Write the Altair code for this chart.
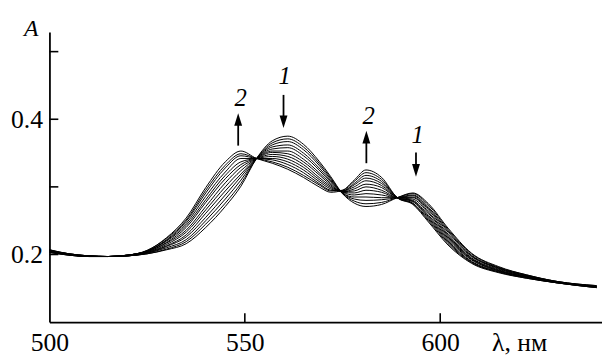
import altair as alt
import pandas as pd

# wavelengths (nm) at which the spectra were read
wavelength = [500, 505, 510, 515, 520, 525, 530, 535, 540, 545, 549, 553, 557, 561, 565,
              569, 572, 575, 578, 581, 585, 589, 593, 597, 602, 608, 615, 622, 630, 640]

# absorbance spectra, from curve 1 (initial) to curve 2 (final)
curve_01 = [0.203, 0.199, 0.197, 0.197, 0.198, 0.201, 0.207, 0.216, 0.240, 0.271, 0.301, 0.342, 0.368, 0.375, 0.363,
            0.338, 0.315, 0.290, 0.276, 0.271, 0.274, 0.284, 0.291, 0.275, 0.239, 0.202, 0.182, 0.170, 0.160, 0.154]
curve_02 = [0.203, 0.199, 0.197, 0.197, 0.198, 0.201, 0.208, 0.219, 0.245, 0.276, 0.305, 0.342, 0.365, 0.371, 0.359,
            0.335, 0.313, 0.290, 0.279, 0.275, 0.277, 0.284, 0.290, 0.273, 0.237, 0.201, 0.181, 0.170, 0.160, 0.154]
curve_03 = [0.204, 0.199, 0.197, 0.197, 0.198, 0.202, 0.210, 0.222, 0.250, 0.282, 0.310, 0.342, 0.362, 0.367, 0.355,
            0.332, 0.311, 0.291, 0.282, 0.280, 0.281, 0.284, 0.288, 0.270, 0.235, 0.199, 0.180, 0.169, 0.160, 0.153]
curve_04 = [0.204, 0.200, 0.197, 0.197, 0.198, 0.202, 0.212, 0.226, 0.255, 0.288, 0.315, 0.342, 0.359, 0.362, 0.350,
            0.328, 0.309, 0.291, 0.285, 0.285, 0.284, 0.284, 0.287, 0.268, 0.233, 0.198, 0.180, 0.169, 0.159, 0.153]
curve_05 = [0.204, 0.200, 0.197, 0.197, 0.198, 0.203, 0.213, 0.229, 0.261, 0.294, 0.319, 0.342, 0.356, 0.358, 0.346,
            0.325, 0.307, 0.292, 0.288, 0.290, 0.288, 0.284, 0.285, 0.266, 0.230, 0.197, 0.179, 0.168, 0.159, 0.153]
curve_06 = [0.205, 0.200, 0.197, 0.197, 0.198, 0.203, 0.215, 0.233, 0.266, 0.300, 0.324, 0.342, 0.353, 0.353, 0.341,
            0.321, 0.305, 0.292, 0.291, 0.295, 0.292, 0.284, 0.284, 0.263, 0.228, 0.195, 0.178, 0.168, 0.159, 0.153]
curve_07 = [0.205, 0.200, 0.198, 0.197, 0.199, 0.204, 0.217, 0.236, 0.271, 0.306, 0.329, 0.342, 0.351, 0.349, 0.337,
            0.318, 0.303, 0.293, 0.294, 0.300, 0.295, 0.284, 0.282, 0.261, 0.226, 0.194, 0.177, 0.167, 0.159, 0.152]
curve_08 = [0.205, 0.200, 0.198, 0.197, 0.199, 0.204, 0.218, 0.240, 0.277, 0.312, 0.333, 0.342, 0.348, 0.345, 0.333,
            0.314, 0.301, 0.293, 0.297, 0.304, 0.299, 0.284, 0.280, 0.258, 0.224, 0.193, 0.176, 0.167, 0.159, 0.152]
curve_09 = [0.206, 0.200, 0.198, 0.197, 0.199, 0.205, 0.220, 0.243, 0.281, 0.317, 0.337, 0.342, 0.345, 0.341, 0.329,
            0.311, 0.299, 0.294, 0.300, 0.309, 0.302, 0.284, 0.279, 0.256, 0.222, 0.192, 0.176, 0.167, 0.159, 0.152]
curve_10 = [0.206, 0.201, 0.198, 0.197, 0.199, 0.205, 0.221, 0.246, 0.286, 0.322, 0.342, 0.342, 0.342, 0.337, 0.325,
            0.308, 0.297, 0.294, 0.303, 0.313, 0.305, 0.284, 0.278, 0.254, 0.220, 0.190, 0.175, 0.166, 0.158, 0.152]
curve_11 = [0.206, 0.201, 0.198, 0.197, 0.199, 0.205, 0.222, 0.249, 0.291, 0.328, 0.346, 0.342, 0.340, 0.333, 0.321,
            0.305, 0.295, 0.294, 0.305, 0.317, 0.308, 0.284, 0.276, 0.252, 0.218, 0.189, 0.174, 0.166, 0.158, 0.151]
curve_12 = [0.207, 0.201, 0.198, 0.197, 0.199, 0.206, 0.224, 0.251, 0.295, 0.332, 0.349, 0.342, 0.337, 0.329, 0.317,
            0.303, 0.294, 0.295, 0.308, 0.321, 0.311, 0.284, 0.275, 0.250, 0.216, 0.188, 0.174, 0.165, 0.158, 0.151]
curve_13 = [0.207, 0.201, 0.198, 0.197, 0.199, 0.206, 0.225, 0.254, 0.299, 0.337, 0.353, 0.342, 0.335, 0.326, 0.314,
            0.300, 0.292, 0.295, 0.310, 0.325, 0.314, 0.284, 0.274, 0.248, 0.214, 0.187, 0.173, 0.165, 0.158, 0.151]

curves = [curve_01, curve_02, curve_03, curve_04, curve_05, curve_06, curve_07,
          curve_08, curve_09, curve_10, curve_11, curve_12, curve_13]

# axis ticks / labels
x_tick_labels = [500, 550, 600]
x_ticks = [550, 600]
y_tick_labels = [0.2, 0.4]
y_ticks = [0.2, 0.3, 0.4, 0.5]

# annotation arrows ("1" = decreasing bands, "2" = growing bands)
arrow_wavelength = [548.3, 559.9, 581.1, 593.8]
arrow_tail = [0.361, 0.436, 0.335, 0.351]
arrow_shaft_end = [0.400, 0.396, 0.374, 0.324]
arrow_tip = [0.409, 0.387, 0.383, 0.315]
arrow_direction = ["up", "down", "up", "down"]

label_text = ["2", "1", "2", "1"]
label_wavelength = [548.9, 560.2, 581.7, 594.2]
label_A = [0.432, 0.464, 0.404, 0.377]

rows = []
for i, c in enumerate(curves):
    for w, a in zip(wavelength, c):
        rows.append({"wavelength": w, "A": a, "curve": i + 1})
spectra = pd.DataFrame(rows)

arrows = pd.DataFrame({"wavelength": arrow_wavelength, "tail": arrow_tail,
                       "shaft_end": arrow_shaft_end, "tip": arrow_tip, "dir": arrow_direction})
labels = pd.DataFrame({"wavelength": label_wavelength, "A": label_A, "text": label_text})
xt = pd.DataFrame({"x": x_ticks})
yt = pd.DataFrame({"y": y_ticks})

FONT = "Liberation Serif"
x_scale = alt.Scale(domain=[500, 641.4], nice=False, zero=False)
y_scale = alt.Scale(domain=[0.1, 0.529], nice=False, zero=False)

x_axis = alt.Axis(values=x_tick_labels, format="d", ticks=False, tickSize=0, grid=False,
                  labelFlush=False, labelOverlap=False, labelFont=FONT, labelFontSize=26,
                  labelColor="black", labelPadding=29, labelBaseline="alphabetic",
                  domainColor="black", domainWidth=1.8,
                  title="λ, нм", titleFont=FONT, titleFontSize=26, titleFontWeight="normal",
                  titleColor="black", titleX=448, titleY=29, titleAlign="left",
                  titleBaseline="alphabetic")
y_axis = alt.Axis(values=y_tick_labels, format=".1f", ticks=False, tickSize=0, grid=False,
                  labelFont=FONT, labelFontSize=26, labelColor="black", labelPadding=7,
                  labelBaseline="middle", labelFlush=False, labelOverlap=False,
                  domainColor="black", domainWidth=1.8,
                  title="A", titleFont=FONT, titleFontSize=24, titleFontStyle="italic",
                  titleFontWeight="normal", titleColor="black", titleAngle=0,
                  titleX=-19, titleY=4, titleAlign="center", titleBaseline="alphabetic")

lines = alt.Chart(spectra).mark_line(color="black", strokeWidth=1.0, interpolate="monotone").encode(
    x=alt.X("wavelength:Q", scale=x_scale, axis=x_axis),
    y=alt.Y("A:Q", scale=y_scale, axis=y_axis),
    detail="curve:N",
)

x_tick_marks = alt.Chart(xt).mark_rule(color="black", strokeWidth=1.6).encode(
    x=alt.X("x:Q", scale=x_scale), y=alt.value(294), y2=alt.value(285))
y_tick_marks = alt.Chart(yt).mark_rule(color="black", strokeWidth=1.6).encode(
    y=alt.Y("y:Q", scale=y_scale), x=alt.value(0), x2=alt.value(9))

shafts = alt.Chart(arrows).mark_rule(color="black", strokeWidth=1.8).encode(
    x=alt.X("wavelength:Q", scale=x_scale),
    y=alt.Y("tail:Q", scale=y_scale), y2="shaft_end:Q")
heads_up = alt.Chart(arrows).transform_filter(alt.datum.dir == "up").mark_point(
    shape="M0,0L0.5,1.6L-0.5,1.6Z", filled=True, color="black", size=256, opacity=1, strokeWidth=0
).encode(x=alt.X("wavelength:Q", scale=x_scale), y=alt.Y("tip:Q", scale=y_scale))
heads_down = alt.Chart(arrows).transform_filter(alt.datum.dir == "down").mark_point(
    shape="M0,0L0.5,-1.6L-0.5,-1.6Z", filled=True, color="black", size=256, opacity=1, strokeWidth=0
).encode(x=alt.X("wavelength:Q", scale=x_scale), y=alt.Y("tip:Q", scale=y_scale))

texts = alt.Chart(labels).mark_text(font=FONT, fontStyle="italic", fontSize=25, color="black",
                                    align="center", baseline="middle").encode(
    x=alt.X("wavelength:Q", scale=x_scale), y=alt.Y("A:Q", scale=y_scale), text="text:N")

chart = alt.layer(lines, x_tick_marks, y_tick_marks, shafts, heads_up, heads_down, texts).properties(
    width=560, height=294,
    autosize=alt.AutoSizeParams(type="none"),
    padding={"left": 42, "top": 22, "right": 0, "bottom": 32},
    background="white",
).configure_view(stroke=None)

chart.save("out.html", embed_options={"renderer": "svg", "actions": False})
